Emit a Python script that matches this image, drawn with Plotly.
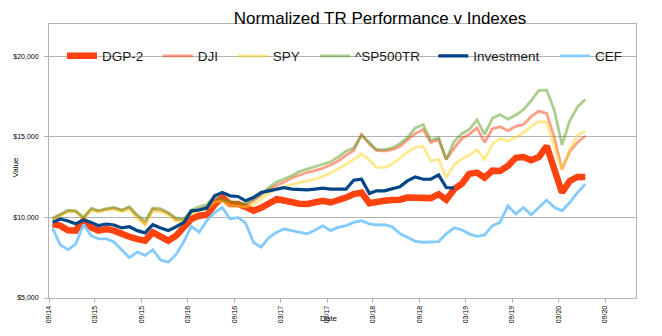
import pandas as pd
import plotly.graph_objects as go

# Monthly observations, Sep 2014 - Jun 2020 (mid-month)
dates = pd.date_range("2014-09-01", "2020-06-01", freq="MS") + pd.Timedelta(days=14)

dgp2 = [9590, 9490, 9200, 9180, 9800, 9380, 9180, 9280, 9180, 8950,
        8800, 8650, 8560, 9075, 8770, 8560, 8870, 9380, 9900, 10100,
        10150, 10800, 11230, 10830, 10830, 10650, 10410, 10600, 10830, 11135,
        11050, 10925, 10850, 10830, 10950, 11030, 10925, 11060, 11230, 11450,
        11543, 10880, 10987, 11030, 11074, 11100, 11234, 11240, 11240, 11197,
        11440, 11100, 11750, 12100, 12700, 12780, 12470, 12900, 12882, 13190,
        13700, 13745, 13541, 13745, 14424, 12882, 11543, 12264, 12511, 12511]

dji = [9900, 10150, 10400, 10380, 9950, 10500, 10380, 10500, 10580, 10420,
       10600, 10050, 9600, 10500, 10450, 10250, 9850, 9850, 10300, 10500,
       10650, 11100, 11150, 10880, 10800, 10750, 11030, 11380, 11750, 12000,
       12180, 12450, 12600, 12800, 12900, 13050, 13250, 13500, 13850, 14150,
       15150, 14550, 14160, 14120, 14200, 14400, 14800, 15200, 15450, 14650,
       14840, 13600, 14300, 14900, 15150, 15550, 14650, 15500, 15620, 15380,
       15650, 15760, 16250, 16600, 16450, 14900, 13000, 14100, 14650, 15050]

spy = [9850, 10100, 10350, 10350, 9950, 10450, 10350, 10450, 10500, 10350,
       10500, 9950, 9550, 10400, 10350, 10150, 9750, 9800, 10250, 10400,
       10550, 10950, 11000, 10750, 10700, 10650, 10800, 11100, 11500, 11800,
       11900, 12050, 12160, 12270, 12370, 12550, 12750, 13000, 13300, 13600,
       13950, 13550, 13100, 13085, 13290, 13650, 14050, 14350, 14420, 13520,
       13600, 12470, 13250, 13650, 13850, 14200, 13600, 14550, 14900, 14750,
       14950, 15250, 15650, 15950, 15900, 14350, 12950, 14200, 15100, 15350]

sp500tr = [9950, 10210, 10450, 10400, 10000, 10580, 10420, 10550, 10620, 10460,
           10660, 10150, 9800, 10580, 10550, 10300, 9950, 9900, 10450, 10650,
           10800, 11300, 11100, 10980, 10900, 10830, 11135, 11450, 11850, 12200,
           12380, 12580, 12850, 13000, 13130, 13260, 13450, 13750, 14100, 14300,
           15100, 14650, 14200, 14200, 14300, 14580, 14950, 15550, 15750, 14780,
           14950, 13600, 14700, 15200, 15450, 16050, 15150, 16150, 16380, 16100,
           16350, 16680, 17250, 17880, 17900, 16600, 14500, 16000, 16850, 17320]

investment = [9690, 9900, 9780, 9600, 9840, 9690, 9490, 9590, 9530, 9350,
              9420, 9180, 9040, 9550, 9350, 9180, 9420, 9690, 10410, 10460,
              10580, 11340, 11543, 11340, 11300, 11030, 11234, 11543, 11650, 11750,
              11850, 11752, 11720, 11709, 11750, 11814, 11752, 11752, 11752, 12306,
              12368, 11480, 11647, 11647, 11752, 11900, 12264, 12511, 12368, 12368,
              12635, 11851, 11814] + [None] * 17

cef = [9350, 8300, 8000, 8350, 9550, 8850, 8670, 8670, 8480, 8000,
       7500, 7850, 7650, 8000, 7350, 7220, 7700, 8500, 9450, 9075,
       9800, 10300, 10620, 9900, 10000, 9650, 8450, 8150, 8750, 9075,
       9280, 9180, 9075, 8980, 9200, 9480, 9180, 9380, 9490, 9690,
       9800, 9600, 9530, 9550, 9430, 9000, 8770, 8520, 8460, 8460,
       8500, 8980, 9350, 9220, 8980, 8830, 8910, 9490, 9690, 10720,
       10210, 10617, 10167, 10617, 11074, 10617, 10413, 10925, 11543, 12061]

names = ["DGP-2", "DJI", "SPY", "^SP500TR", "Investment", "CEF"]
values = [dgp2, dji, spy, sp500tr, investment, cef]
colors = ["#ff420e", "rgba(255,66,14,0.5)", "rgba(255,211,32,0.5)",
          "rgba(87,157,28,0.5)", "#004586", "#83caff"]
widths = [6.5, 2.8, 2.8, 2.8, 3.2, 2.8]
legend_x = [0.0221, 0.1852, 0.3129, 0.4532, 0.6547, 0.8620]

FONT = "Liberation Sans, Arial, sans-serif"
GRID = "#b3b3b3"

fig = go.Figure()
for i, (n, v, c, w) in enumerate(zip(names, values, colors, widths)):
    fig.add_trace(go.Scatter(
        x=dates, y=v, name=n, mode="lines",
        line=dict(color=c, width=w),
        legend="legend" if i == 0 else f"legend{i + 1}",
    ))

legends = {}
for i, lx in enumerate(legend_x):
    key = "legend" if i == 0 else f"legend{i + 1}"
    legends[key] = dict(
        x=lx, xanchor="left", y=0.883, yanchor="middle",
        bgcolor="rgba(0,0,0,0)", borderwidth=0,
        font=dict(family=FONT, size=13.5, color="#1a1a1a"),
        orientation="h",
    )

fig.update_layout(
    width=662, height=336,
    margin=dict(l=49, r=26, t=24, b=38),
    paper_bgcolor="white", plot_bgcolor="white",
    font=dict(family=FONT, color="#000000"),
    showlegend=True,
    title=dict(text="Normalized TR Performance v Indexes",
               x=0.574, xanchor="center", y=0.946, yanchor="middle",
               font=dict(family=FONT, size=17, color="#000000")),
    xaxis=dict(
        type="date", range=["2014-09-01", "2021-01-01"],
        tick0="2014-09-01", dtick="M6", tickformat="%m/%y",
        tickangle=-90, tickfont=dict(family=FONT, size=7, color="#000000"),
        showgrid=False, zeroline=False,
        showline=True, linecolor=GRID, linewidth=1, mirror=True,
        ticks="outside", ticklen=4, tickcolor=GRID,
    ),
    yaxis=dict(
        range=[5000, 22000], tick0=0, dtick=5000,
        tickprefix="$", tickformat=",d",
        tickfont=dict(family=FONT, size=7, color="#000000"),
        showgrid=True, gridcolor=GRID, gridwidth=1, zeroline=False,
        showline=True, linecolor=GRID, linewidth=1, mirror=True,
        ticks="outside", ticklen=4, tickcolor=GRID,
        ticklabelstandoff=4,
    ),
    annotations=[
        dict(text="Value", xref="paper", yref="paper",
             x=-0.0682, y=0.478, textangle=-90, showarrow=False,
             font=dict(family=FONT, size=8, color="#000000")),
        dict(text="Date", xref="paper", yref="paper",
             x=0.477, y=-0.099, showarrow=False,
             font=dict(family=FONT, size=8, color="#000000")),
    ],
    **legends,
)

fig.write_html("out.html")
